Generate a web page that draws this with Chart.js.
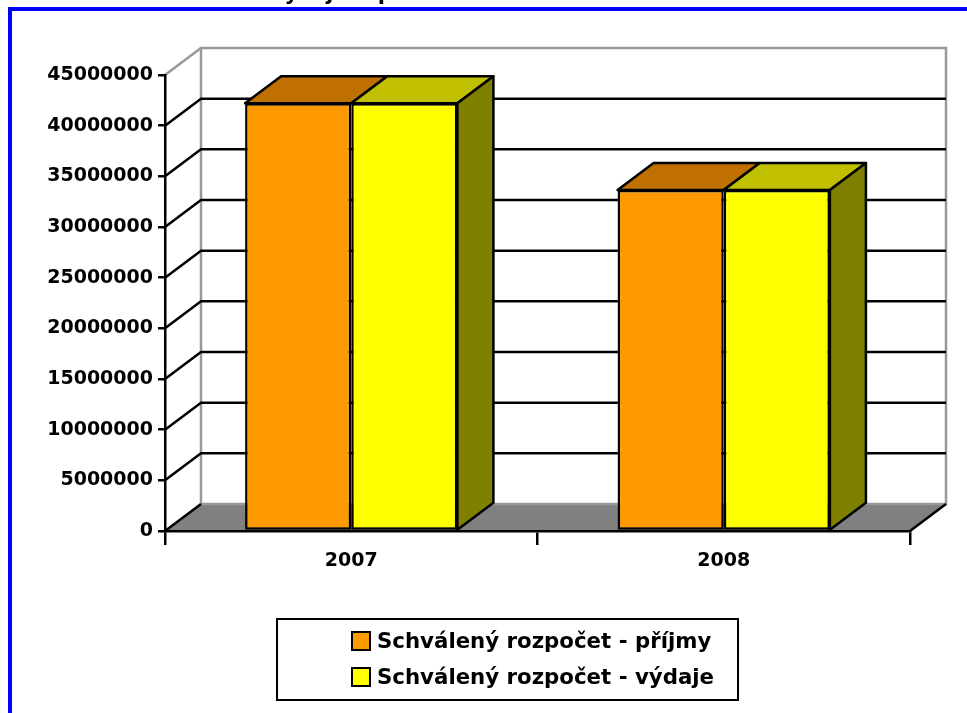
<!DOCTYPE html>
<html>
<head>
<meta charset="utf-8">
<script src="https://cdn.jsdelivr.net/npm/chart.js@4"></script>
<style>
  html, body { margin: 0; padding: 0; background: #fff; }
</style>
</head>
<body>
<canvas id="graf" width="967" height="713"></canvas>
<script>
const nadpis = 'Graf č. 1 Vývoj rozpočtu města v letech 2007 - 2008';
const roky = ['2007', '2008'];
const prijmy = [42200000, 33650000];
const vydaje = [42200000, 33650000];
const yMax = 45000000;
const yKrok = 5000000;

// posun "hloubky" pro 3D vzhled
const DX = 36, DY = -27;

function poly(ctx, pts, fill) {
  ctx.beginPath();
  ctx.moveTo(pts[0][0], pts[0][1]);
  pts.slice(1).forEach(p => ctx.lineTo(p[0], p[1]));
  ctx.closePath();
  ctx.fillStyle = fill;
  ctx.fill();
  ctx.stroke();
}

const fake3d = {
  id: 'fake3d',
  beforeDraw(chart) {
    const { ctx, scales: { x, y } } = chart;
    const l = x.left, r = x.right;
    const b = y.getPixelForValue(0), t = y.getPixelForValue(yMax);
    ctx.save();
    // podlaha
    ctx.fillStyle = '#808080';
    ctx.beginPath();
    ctx.moveTo(l, b); ctx.lineTo(r, b); ctx.lineTo(r + DX, b + DY); ctx.lineTo(l + DX, b + DY);
    ctx.closePath();
    ctx.fill();
    // zadni stena
    ctx.strokeStyle = '#999';
    ctx.lineWidth = 2.5;
    ctx.strokeRect(l + DX, t + DY, r - l, b - t);
    ctx.strokeStyle = '#000';
    ctx.beginPath(); ctx.moveTo(r, b); ctx.lineTo(r + DX, b + DY); ctx.stroke();
    // mrizka + bocni stena
    y.ticks.forEach(tk => {
      const py = y.getPixelForValue(tk.value);
      ctx.strokeStyle = tk.value === yMax ? '#999' : '#000';
      ctx.beginPath();
      ctx.moveTo(l, py);
      ctx.lineTo(l + DX, py + DY);
      if (tk.value !== 0 && tk.value !== yMax) ctx.lineTo(r + DX, py + DY);
      ctx.stroke();
    });
    ctx.restore();
  },
  afterDatasetsDraw(chart) {
    const ctx = chart.ctx;
    const n = chart.data.datasets.length;
    ctx.save();
    ctx.lineWidth = 2.5;
    ctx.strokeStyle = '#000';
    ctx.lineJoin = 'round';
    chart.data.datasets.forEach((ds, i) => {
      chart.getDatasetMeta(i).data.forEach(bar => {
        const { x, y, base, width } = bar.getProps(['x', 'y', 'base', 'width'], true);
        const L = x - width / 2, R = x + width / 2;
        poly(ctx, [[L, y], [R, y], [R + DX, y + DY], [L + DX, y + DY]], ds.topColor);
        if (i === n - 1) poly(ctx, [[R, y], [R + DX, y + DY], [R + DX, base + DY], [R, base]], ds.sideColor);
      });
    });
    ctx.restore();
  },
  afterDraw(chart) {
    const ctx = chart.ctx;
    ctx.save();
    // nadpis (oriznuty nahore)
    ctx.font = 'bold 21px "DejaVu Sans"';
    ctx.fillStyle = '#000';
    ctx.textAlign = 'center';
    ctx.textBaseline = 'alphabetic';
    ctx.fillText(nadpis, 467, -0.5);
    // modry ramecek
    ctx.fillStyle = '#0000ff';
    ctx.fillRect(8, 7, 4, 713);
    ctx.fillRect(8, 7, 967, 4);
    // legenda
    ctx.strokeStyle = '#000';
    ctx.lineWidth = 2;
    ctx.strokeRect(277, 619, 461, 81);
    ctx.font = 'bold 21.3px "DejaVu Sans"';
    ctx.textAlign = 'left';
    ctx.textBaseline = 'middle';
    chart.data.datasets.forEach((ds, i) => {
      const yy = 641 + i * 36;
      ctx.fillStyle = ds.backgroundColor;
      ctx.fillRect(352, yy - 9, 18, 18);
      ctx.strokeRect(352, yy - 9, 18, 18);
      ctx.fillStyle = '#000';
      ctx.fillText(ds.label, 377, yy + 1);
    });
    ctx.restore();
  }
};

Chart.defaults.font.family = '"DejaVu Sans"';
Chart.defaults.font.weight = 'bold';
Chart.defaults.color = '#000';

new Chart(document.getElementById('graf'), {
  type: 'bar',
  data: {
    labels: roky,
    datasets: [
      {
        label: 'Schválený rozpočet - příjmy',
        data: prijmy,
        backgroundColor: '#ff9900',
        topColor: '#c07000',
        sideColor: '#805000',
        borderColor: '#000',
        borderWidth: 2.5,
        borderSkipped: false
      },
      {
        label: 'Schválený rozpočet - výdaje',
        data: vydaje,
        backgroundColor: '#ffff00',
        topColor: '#c0c000',
        sideColor: '#808000',
        borderColor: '#000',
        borderWidth: 2.5,
        borderSkipped: false
      }
    ]
  },
  options: {
    responsive: false,
    animation: false,
    layout: { padding: { top: 75, right: 57, bottom: 132, left: 0 } },
    plugins: { legend: { display: false }, tooltip: { enabled: false } },
    datasets: { bar: { categoryPercentage: 0.57, barPercentage: 1.0 } },
    scales: {
      x: {
        grid: { display: true, drawOnChartArea: false, drawTicks: true, tickLength: 14, color: '#000', lineWidth: 2.5, offset: true },
        border: { color: '#000', width: 2.5 },
        ticks: { font: { size: 19, weight: 'bold' }, padding: 5 },
        afterFit(s) { s.height = 50; }
      },
      y: {
        min: 0,
        max: yMax,
        grid: { drawOnChartArea: false, tickLength: 7, color: '#000', lineWidth: 2.5 },
        border: { color: '#000', width: 2.5 },
        ticks: { stepSize: yKrok, font: { size: 19, weight: 'bold' }, padding: 5, callback: v => String(v) },
        afterFit(s) { s.width = 165; }
      }
    }
  },
  plugins: [fake3d]
});
</script>
</body>
</html>
